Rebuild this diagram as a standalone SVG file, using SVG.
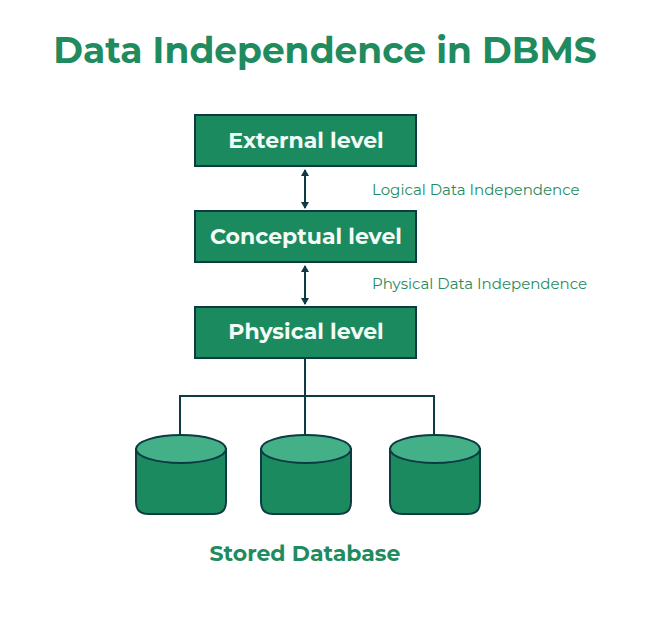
<svg xmlns="http://www.w3.org/2000/svg" width="650" height="620" viewBox="0 0 650 620">
<style>
.box{fill:#1b8a5f;stroke:#0d3b44;stroke-width:2}
.bt{font-family:Montserrat,"Open Sans","Liberation Sans",sans-serif;font-weight:bold;font-size:22px;fill:#f2fbf6;text-anchor:middle}
.lbl{font-family:Montserrat,"Open Sans","Liberation Sans",sans-serif;font-size:15px;fill:#1f8b5e}
.ln{stroke:#0d3b44;stroke-width:2;fill:none}
.cyl{fill:#1b8a5f;stroke:#0d3b44;stroke-width:2}
.top{fill:#43b088;stroke:#0d3b44;stroke-width:2}
</style>
<defs><marker id="ah" markerWidth="8" markerHeight="8" refX="6" refY="4" orient="auto-start-reverse" markerUnits="userSpaceOnUse"><path d="M0,0 L7,4 L0,8 Z" fill="#0d3b44"/></marker></defs>
<rect width="650" height="620" fill="#fff"/>
<text x="325" y="63" text-anchor="middle" font-family="Montserrat,'Open Sans','Liberation Sans',sans-serif" font-weight="bold" font-size="36" fill="#1f8b5e">Data Independence in DBMS</text>
<g id="connectors">
<line class="ln" x1="305" y1="170" x2="305" y2="208" marker-start="url(#ah)" marker-end="url(#ah)"/>
<line class="ln" x1="305" y1="266" x2="305" y2="304" marker-start="url(#ah)" marker-end="url(#ah)"/>
<path class="ln" d="M305,358 V435 M180,435 V396 H434 V435"/>
</g>
<g id="external"><rect class="box" x="195" y="115" width="221" height="51"/><text class="bt" x="306" y="148">External level</text></g>
<g id="conceptual"><rect class="box" x="195" y="211" width="221" height="51"/><text class="bt" x="306" y="244">Conceptual level</text></g>
<g id="physical"><rect class="box" x="195" y="307" width="221" height="51"/><text class="bt" x="306" y="339">Physical level</text></g>
<text class="lbl" x="372" y="195">Logical Data Independence</text>
<text class="lbl" x="372" y="289">Physical Data Independence</text>
<g id="db1"><path class="cyl" d="M136,449 V502 Q136,514 148,514 H214 Q226,514 226,502 V449 Z"/><ellipse class="top" cx="181" cy="449" rx="45" ry="14"/></g>
<g id="db2"><path class="cyl" d="M261,449 V502 Q261,514 273,514 H339 Q351,514 351,502 V449 Z"/><ellipse class="top" cx="306" cy="449" rx="45" ry="14"/></g>
<g id="db3"><path class="cyl" d="M390,449 V502 Q390,514 402,514 H468 Q480,514 480,502 V449 Z"/><ellipse class="top" cx="435" cy="449" rx="45" ry="14"/></g>
<text x="305" y="561" text-anchor="middle" font-family="Montserrat,'Open Sans','Liberation Sans',sans-serif" font-weight="bold" font-size="22" fill="#1f8b5e">Stored Database</text>
</svg>
